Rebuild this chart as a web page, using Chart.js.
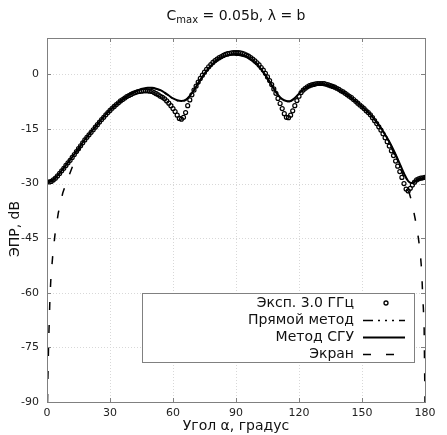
<!DOCTYPE html>
<html>
<head>
<meta charset="utf-8">
<script src="https://cdn.jsdelivr.net/npm/chart.js@4.4.1/dist/chart.umd.min.js"></script>
<style>
  html, body { margin: 0; padding: 0; background: #fff; }
  #wrap { width: 447px; height: 435px; }
</style>
</head>
<body>
<div id="wrap"><canvas id="rcsChart" width="447" height="435"></canvas></div>
<script>
// Series labels (legend order)
const seriesLabels = ['Эксп. 3.0 ГГц', 'Прямой метод', 'Метод СГУ', 'Экран'];

// Experiment, one point per degree, 0..180
const expStep = 1;
const expValues = [
    -29.5, -29.6, -29.4, -29.0, -28.5, -27.9, -27.2, -26.5, -25.8, -25.0,
    -24.3, -23.6, -22.8, -22.0, -21.2, -20.4, -19.6, -18.8, -18.0, -17.3,
    -16.6, -15.9, -15.2, -14.5, -13.8, -13.1, -12.4, -11.8, -11.1, -10.5,
    -9.9, -9.3, -8.8, -8.3, -7.8, -7.3, -6.9, -6.5, -6.1, -5.8,
    -5.5, -5.2, -5.0, -4.8, -4.7, -4.6, -4.5, -4.5, -4.5, -4.6,
    -4.7, -5.0, -5.3, -5.6, -6.0, -6.3, -6.7, -7.3, -7.9, -8.6,
    -9.4, -10.2, -11.2, -12.1, -12.3, -11.8, -10.5, -8.6, -7.0, -5.6,
    -4.3, -3.2, -2.1, -1.1, -0.2, 0.6, 1.4, 2.1, 2.7, 3.3,
    3.8, 4.2, 4.6, 4.9, 5.2, 5.5, 5.7, 5.8, 5.9, 6.0,
    6.0, 6.0, 5.9, 5.8, 5.6, 5.3, 5.0, 4.6, 4.2, 3.7,
    3.2, 2.6, 1.9, 1.2, 0.3, -0.7, -1.7, -2.8, -4.0, -5.2,
    -6.6, -8.0, -9.4, -10.8, -11.8, -11.9, -11.2, -10.0, -8.6, -7.2,
    -6.0, -5.0, -4.3, -3.8, -3.4, -3.1, -2.9, -2.75, -2.6, -2.5,
    -2.5, -2.5, -2.55, -2.7, -2.9, -3.1, -3.3, -3.5, -3.8, -4.1,
    -4.5, -4.8, -5.2, -5.6, -6.0, -6.4, -6.9, -7.4, -7.9, -8.4,
    -8.9, -9.4, -10.0, -10.5, -11.1, -11.9, -12.7, -13.5, -14.4, -15.3,
    -16.3, -17.4, -18.5, -19.7, -21.0, -22.3, -23.8, -25.2, -26.7, -28.3,
    -30.0, -31.5, -32.0, -31.3, -30.4, -29.6, -29.0, -28.7, -28.5, -28.4, -28.3
];

// Computed curves, every 2 degrees, 0..180
const lineStep = 2;
const directValues = [
    -29.6, -29.3, -28.5, -27.2, -25.8, -24.3, -22.8, -21.2, -19.6, -18.0,
    -16.6, -15.2, -13.8, -12.4, -11.1, -9.9, -8.8, -7.8, -6.9, -6.1,
    -5.4, -4.8, -4.3, -4.0, -3.8, -3.8, -4.0, -4.4, -5.1, -5.9,
    -6.7, -7.2, -7.4, -7.1, -6.0, -4.4, -2.5, -0.7, 0.9, 2.2,
    3.3, 4.1, 4.7, 5.1, 5.3, 5.3, 5.2, 4.9, 4.4, 3.6,
    2.6, 1.3, -0.3, -2.1, -4.0, -5.7, -6.9, -7.4, -7.4, -6.6,
    -5.4, -4.3, -3.5, -3.0, -2.8, -2.7, -2.8, -3.1, -3.5, -4.0,
    -4.6, -5.3, -6.1, -7.0, -7.9, -8.9, -10.0, -11.1, -12.5, -14.0,
    -15.7, -17.6, -19.7, -22.1, -24.7, -27.3, -29.4, -29.9, -29.1, -28.7, -28.5
];
const sguValues = [
    -29.5, -29.2, -28.4, -27.1, -25.7, -24.2, -22.7, -21.1, -19.5, -17.9,
    -16.5, -15.1, -13.7, -12.3, -11.0, -9.8, -8.7, -7.7, -6.8, -6.0,
    -5.3, -4.7, -4.2, -3.9, -3.7, -3.7, -3.9, -4.3, -5.0, -5.8,
    -6.6, -7.1, -7.3, -7.0, -5.9, -4.3, -2.4, -0.6, 1.0, 2.3,
    3.4, 4.2, 4.8, 5.2, 5.4, 5.4, 5.3, 5.0, 4.5, 3.7,
    2.7, 1.4, -0.2, -2.0, -3.9, -5.6, -6.8, -7.3, -7.3, -6.5,
    -5.3, -4.2, -3.4, -2.9, -2.7, -2.6, -2.7, -3.0, -3.4, -3.9,
    -4.5, -5.2, -6.0, -6.9, -7.8, -8.9, -9.9, -11.0, -12.4, -13.9,
    -15.6, -17.5, -19.6, -22.0, -24.6, -27.2, -29.3, -29.8, -29.0, -28.6, -28.4
];

// Screen (plate) curve, only the parts that leave the other curves
const screenAngles = [
    0.25, 0.4, 0.6, 0.8, 1.1, 1.4, 1.9, 2.7, 3.8, 5.4, 7.5, 9.2, 11, 13, 15, 17, 19,
    90,
    164, 166, 168, 170, 172, 173.5, 174.6, 175.6, 176.5, 177.2, 177.8, 178.2, 178.5,
    178.7, 178.9, 179.2, 179.4, 179.6, 180
];
const screenValues = [
    -90, -84, -78.5, -73, -67.5, -61.5, -55.5, -50, -44, -38, -32.6, -29.7, -27, -24, -21, -18.6, -16.8,
    null,
    -20.2, -22.6, -25.4, -28.3, -31.6, -34.6, -37.6, -40.5, -43.5, -46.5, -49.5, -52.3, -55,
    -58, -61, -64, -67, -70, -90
];

const xTicks = [0, 30, 60, 90, 120, 150, 180];
const yTicks = [-90, -75, -60, -45, -30, -15, 0];

const FONT = '"DejaVu Sans", sans-serif';
const dashDirect = [10, 5, 2, 5, 2, 5, 2, 5];
const dashScreen = [8, 15];

const expData = expValues.map((v, i) => ({ x: i * expStep, y: v }));
const directData = directValues.map((v, i) => ({ x: i * lineStep, y: v }));
const sguData = sguValues.map((v, i) => ({ x: i * lineStep, y: v }));
const screenData = screenValues.map((v, i) => ({ x: screenAngles[i], y: v }));

// Frame, grid, inner ticks, title, axis titles and legend
const decorPlugin = {
    id: 'decor',
    beforeDraw(chart) {
        const ctx = chart.ctx;
        ctx.save();
        ctx.fillStyle = '#fff';
        ctx.fillRect(0, 0, chart.width, chart.height);
        ctx.restore();
    },
    beforeDatasetsDraw(chart) {
        const ctx = chart.ctx;
        const a = chart.chartArea;
        const xs = chart.scales.x, ys = chart.scales.y;
        ctx.save();
        ctx.strokeStyle = '#d8d8d8';
        ctx.lineWidth = 1;
        ctx.setLineDash([1, 2]);
        xTicks.forEach(t => {
            const px = Math.round(xs.getPixelForValue(t)) + 0.5;
            if (t === 0 || t === 180) return;
            ctx.beginPath(); ctx.moveTo(px, a.top); ctx.lineTo(px, a.bottom); ctx.stroke();
        });
        yTicks.forEach(t => {
            const py = Math.round(ys.getPixelForValue(t)) + 0.5;
            if (t === -90) return;
            ctx.beginPath(); ctx.moveTo(a.left, py); ctx.lineTo(a.right, py); ctx.stroke();
        });
        ctx.restore();
    },
    afterDraw(chart) {
        const ctx = chart.ctx;
        const a = chart.chartArea;
        const xs = chart.scales.x, ys = chart.scales.y;
        ctx.save();

        // frame + inner ticks
        ctx.strokeStyle = '#808080';
        ctx.lineWidth = 1;
        ctx.setLineDash([]);
        ctx.strokeRect(Math.round(a.left) + 0.5, Math.round(a.top) + 0.5,
            Math.round(a.right - a.left), Math.round(a.bottom - a.top));
        xTicks.forEach(t => {
            const px = Math.round(xs.getPixelForValue(t)) + 0.5;
            ctx.beginPath();
            ctx.moveTo(px, a.bottom); ctx.lineTo(px, a.bottom - 4);
            ctx.moveTo(px, a.top); ctx.lineTo(px, a.top + 4);
            ctx.stroke();
        });
        yTicks.forEach(t => {
            const py = Math.round(ys.getPixelForValue(t)) + 0.5;
            ctx.beginPath();
            ctx.moveTo(a.left, py); ctx.lineTo(a.left + 4, py);
            ctx.moveTo(a.right, py); ctx.lineTo(a.right - 4, py);
            ctx.stroke();
        });

        // title with subscript
        ctx.fillStyle = '#111';
        ctx.textBaseline = 'alphabetic';
        ctx.textAlign = 'left';
        const big = '14px ' + FONT, small = '10px ' + FONT;
        const rest = ' = 0.05b, \u03bb = b';
        ctx.font = big; const wC = ctx.measureText('C').width; const wR = ctx.measureText(rest).width;
        ctx.font = small; const wS = ctx.measureText('max').width;
        let tx = (a.left + a.right) / 2 - (wC + wS + wR) / 2;
        const ty = 20;
        ctx.font = big; ctx.fillText('C', tx, ty); tx += wC;
        ctx.font = small; ctx.fillText('max', tx, ty + 3); tx += wS;
        ctx.font = big; ctx.fillText(rest, tx, ty);

        // axis titles
        ctx.font = '14px ' + FONT;
        ctx.textAlign = 'center';
        ctx.textBaseline = 'middle';
        ctx.fillText('Угол \u03b1, градус', (a.left + a.right) / 2, 426);
        ctx.save();
        ctx.translate(15, 229);
        ctx.rotate(-Math.PI / 2);
        ctx.fillText('ЭПР, dB', 0, 0);
        ctx.restore();

        // legend box
        const bx = 142.5, by = 293.5, bw = 272, bh = 69;
        ctx.fillStyle = '#fff';
        ctx.fillRect(bx, by, bw, bh);
        ctx.strokeStyle = '#808080';
        ctx.strokeRect(bx, by, bw, bh);
        const rows = [303, 320.5, 337.5, 354.5];
        ctx.fillStyle = '#111';
        ctx.textAlign = 'right';
        ctx.font = '14px ' + FONT;
        seriesLabels.forEach((lab, i) => ctx.fillText(lab, 354, rows[i]));
        ctx.strokeStyle = '#000';
        // marker
        ctx.lineWidth = 1.3;
        ctx.beginPath(); ctx.arc(386, rows[0], 2, 0, Math.PI * 2); ctx.stroke();
        // direct method
        ctx.lineWidth = 1.5;
        ctx.setLineDash(dashDirect);
        ctx.beginPath(); ctx.moveTo(363, rows[1]); ctx.lineTo(405, rows[1]); ctx.stroke();
        // SGU
        ctx.setLineDash([]);
        ctx.lineWidth = 2;
        ctx.beginPath(); ctx.moveTo(363, rows[2]); ctx.lineTo(405, rows[2]); ctx.stroke();
        // screen
        ctx.lineWidth = 1.5;
        ctx.setLineDash(dashScreen);
        ctx.beginPath(); ctx.moveTo(363, rows[3]); ctx.lineTo(405, rows[3]); ctx.stroke();
        ctx.restore();
    }
};

const ctx = document.getElementById('rcsChart').getContext('2d');
new Chart(ctx, {
    type: 'scatter',
    data: {
        datasets: [{
            label: seriesLabels[0],
            data: expData,
            showLine: false,
            pointStyle: 'circle',
            pointRadius: 2,
            pointBorderWidth: 1.2,
            pointBorderColor: '#000',
            pointBackgroundColor: 'rgba(255,255,255,0)',
            order: 4
        }, {
            label: seriesLabels[1],
            data: directData,
            showLine: true,
            borderColor: '#000',
            borderWidth: 1.5,
            borderDash: dashDirect,
            pointRadius: 0,
            tension: 0.3,
            order: 3
        }, {
            label: seriesLabels[2],
            data: sguData,
            showLine: true,
            borderColor: '#000',
            borderWidth: 2,
            pointRadius: 0,
            tension: 0.3,
            order: 2
        }, {
            label: seriesLabels[3],
            data: screenData,
            showLine: true,
            spanGaps: false,
            borderColor: '#000',
            borderWidth: 1.5,
            borderDash: dashScreen,
            pointRadius: 0,
            order: 1
        }]
    },
    options: {
        responsive: false,
        animation: false,
        devicePixelRatio: 1,
        layout: { padding: { left: 0, right: 22, top: 38, bottom: 0 } },
        plugins: {
            legend: { display: false },
            title: { display: false },
            tooltip: { enabled: false }
        },
        scales: {
            x: {
                type: 'linear',
                min: 0,
                max: 180,
                afterBuildTicks: scale => { scale.ticks = xTicks.map(v => ({ value: v })); },
                afterFit: scale => { scale.height = 33; },
                grid: { display: false, drawTicks: false },
                border: { display: false },
                ticks: { color: '#222', font: { family: FONT, size: 11 }, padding: 5, maxRotation: 0 }
            },
            y: {
                type: 'linear',
                min: -90,
                max: 10,
                afterBuildTicks: scale => { scale.ticks = yTicks.map(v => ({ value: v })); },
                afterFit: scale => { scale.width = 47; },
                grid: { display: false, drawTicks: false },
                border: { display: false },
                ticks: { color: '#222', font: { family: FONT, size: 11 }, padding: 8 }
            }
        }
    },
    plugins: [decorPlugin]
});
</script>
</body>
</html>
